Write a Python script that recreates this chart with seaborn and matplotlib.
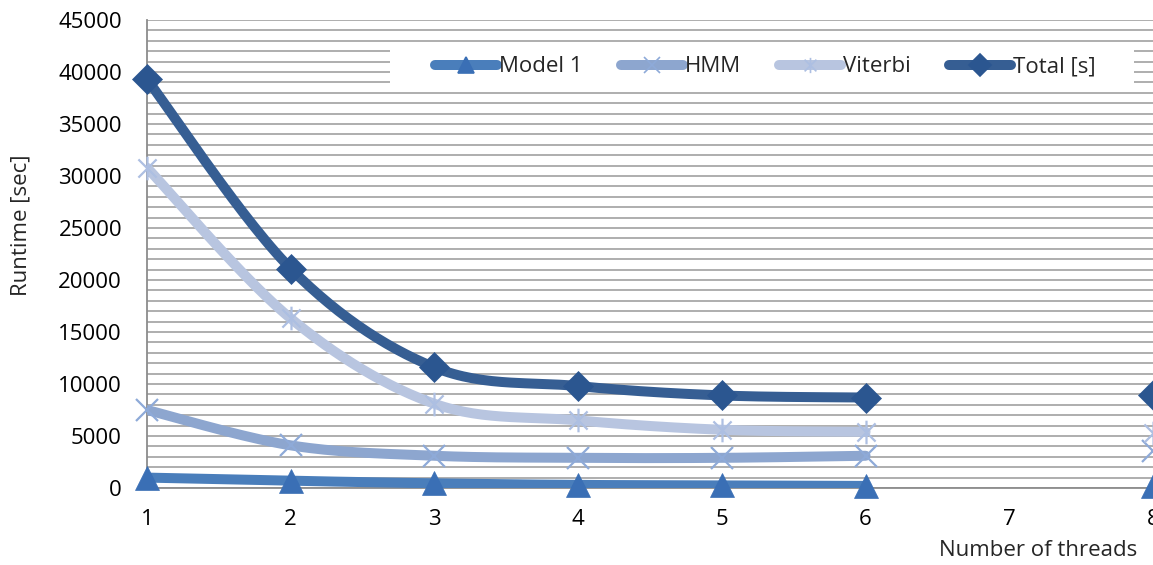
import numpy as np
import pandas as pd
import matplotlib.pyplot as plt
import seaborn as sns
from matplotlib.lines import Line2D
from matplotlib.path import Path
from matplotlib.patches import Rectangle
from matplotlib.ticker import MultipleLocator

threads = [1, 2, 3, 4, 5, 6, 7, 8]
model1 = [1000, 700, 450, 300, 250, 200, np.nan, 200]
hmm = [7500, 4100, 3100, 2900, 2900, 3100, np.nan, 3600]
viterbi = [30800, 16300, 8100, 6500, 5600, 5400, np.nan, 5300]
total = [39300, 21100, 11600, 9800, 8900, 8700, np.nan, 8900]
series_names = ["Model 1", "HMM", "Viterbi", "Total [s]"]

sns.set_style("white")
plt.rcParams['font.family'] = ['Open Sans', 'DejaVu Sans']
FS = 16

# x with a vertical bar, like the Excel "star" marker
star = Path([(-1, -1), (1, 1), (-1, 1), (1, -1), (0, -1.3), (0, 1.3)],
            [Path.MOVETO, Path.LINETO, Path.MOVETO, Path.LINETO, Path.MOVETO, Path.LINETO])

styles = {
    "Model 1": dict(line="#4a7ebb", mk="#3a6fb5", marker="^", size=17, filled=True),
    "HMM": dict(line="#8da6cf", mk="#8eaad8", marker="x", size=16, filled=False),
    "Viterbi": dict(line="#b8c5e0", mk="#adbfe2", marker=star, size=17, filled=False),
    "Total [s]": dict(line="#365e93", mk="#2b5690", marker="D", size=15, filled=True),
}


def smooth(xs, ys, n=30):
    # Catmull-Rom path through the points (Excel "smoothed line")
    pts = np.column_stack([xs, ys]).astype(float)
    if len(pts) < 3:
        return pts[:, 0], pts[:, 1]
    pad = np.vstack([pts[0], pts, pts[-1]])
    t = np.linspace(0, 1, n, endpoint=False)[:, None]
    out = []
    for i in range(1, len(pad) - 2):
        p0, p1, p2, p3 = pad[i - 1], pad[i], pad[i + 1], pad[i + 2]
        out.append(0.5 * (2 * p1 + (p2 - p0) * t + (2 * p0 - 5 * p1 + 4 * p2 - p3) * t ** 2
                          + (-p0 + 3 * p1 - 3 * p2 + p3) * t ** 3))
    out.append(pts[-1][None])
    out = np.vstack(out)
    return out[:, 0], out[:, 1]


df = pd.DataFrame({"threads": threads, "Model 1": model1, "HMM": hmm,
                   "Viterbi": viterbi, "Total [s]": total})

fig = plt.figure(figsize=(11.53, 5.65), dpi=100)
ax = fig.add_axes([147 / 1153, 1 - 488 / 565, 1 - 147 / 1153, 468 / 565])

for name in series_names:
    st = styles[name]
    s = df[["threads", name]]
    # split into runs of consecutive valid points
    runs, cur = [], []
    for x, y in zip(s["threads"], s[name]):
        if pd.notna(y):
            cur.append((x, y))
        elif cur:
            runs.append(cur)
            cur = []
    if cur:
        runs.append(cur)
    for run in runs:
        if len(run) > 1:
            rx, ry = zip(*run)
            sx, sy = smooth(rx, ry)
            sns.lineplot(x=sx, y=sy, ax=ax, color=st["line"], lw=7.2, sort=False,
                         solid_capstyle="round", zorder=3)
    pts = s.dropna()
    ax.plot(pts["threads"], pts[name], ls="none", marker=st["marker"], ms=st["size"],
            mfc=st["mk"] if st["filled"] else "none", mec=st["mk"],
            mew=0.5 if st["filled"] else 1.6, clip_on=False, zorder=4)

ax.set_xlim(1, 8)
ax.set_ylim(0, 45000)
ax.set_xticks(threads)
ax.yaxis.set_major_locator(MultipleLocator(5000))
ax.yaxis.set_minor_locator(MultipleLocator(1000))
ax.grid(axis="y", which="both", color="#a8a8a8", lw=1.3, zorder=0)
ax.grid(axis="x", visible=False)
ax.set_axisbelow(True)
for sp in ["top", "right"]:
    ax.spines[sp].set_visible(False)
for sp in ["left", "bottom"]:
    ax.spines[sp].set_color("#8c8c8c")
    ax.spines[sp].set_linewidth(1.3)
ax.tick_params(axis="x", which="major", length=6, width=1.3, color="#8c8c8c",
               direction="out", pad=9, labelsize=FS, labelcolor="black")
ax.tick_params(axis="y", which="both", length=0, pad=18, labelsize=FS, labelcolor="black")

ax.set_xlabel("")
ax.set_ylabel("Runtime [sec]", fontsize=FS)
ax.yaxis.set_label_coords(-0.115, 0.562)
fig.text(1038 / 1153, 1 - 551 / 565, "Number of threads", ha="center", va="center", fontsize=FS)

# white legend area covering the gridlines
ax.add_patch(Rectangle((0.2416, 0.8547), 0.7394, 0.0855, transform=ax.transAxes,
                       facecolor="white", edgecolor="none", zorder=2))
handles = [Line2D([0], [0], color=styles[n]["line"], lw=7.2, solid_capstyle="round",
                  marker=styles[n]["marker"], ms=11,
                  mfc=styles[n]["mk"] if styles[n]["filled"] else "none",
                  mec=styles[n]["mk"], mew=1.2) for n in series_names]
ax.legend(handles, series_names, loc="center", bbox_to_anchor=(0.6148, 0.8996), ncol=4,
          frameon=False, fontsize=FS, handlelength=2.8, handletextpad=0.1, columnspacing=1.7)

fig.savefig("out.png", dpi=100)
